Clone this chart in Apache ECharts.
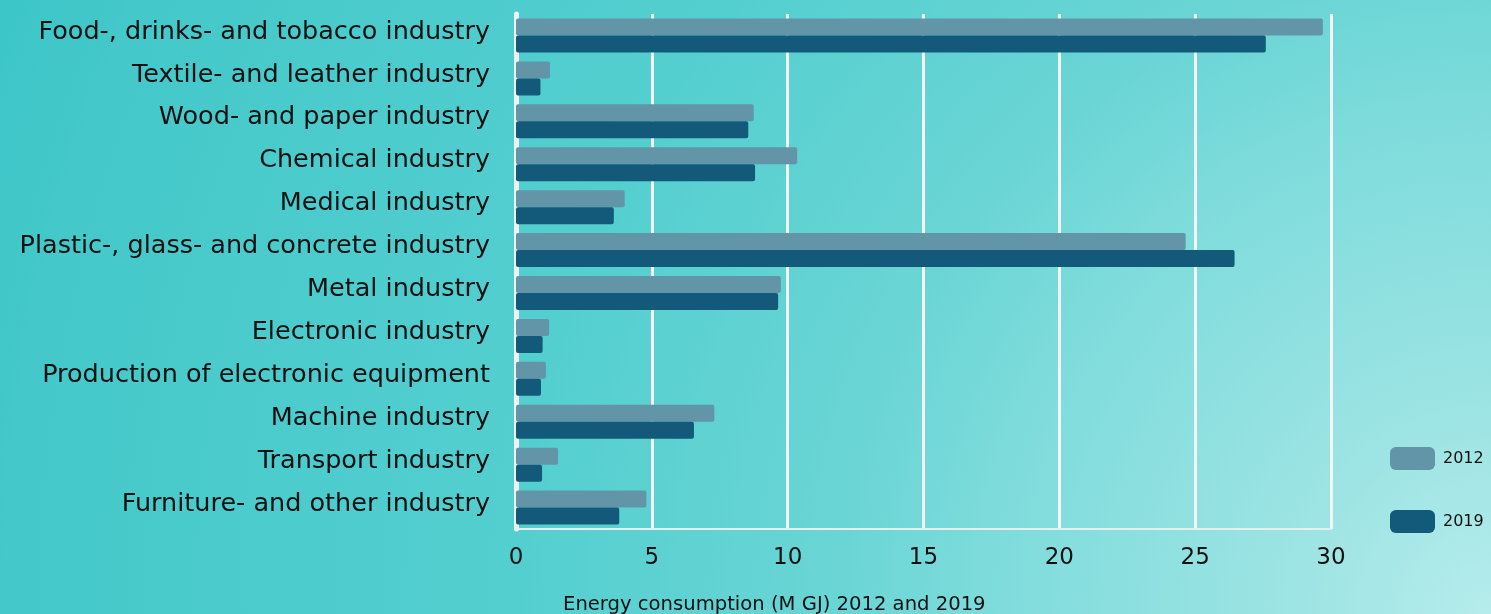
<!DOCTYPE html>
<html style="height: 100%">
<head>
    <meta charset="utf-8">
    <script type="text/javascript" src="https://cdn.jsdelivr.net/npm/echarts@6/dist/echarts.min.js"></script>
</head>
<body style="height: 100%; margin: 0">
<div id="container" style="width: 1491px; height: 614px"></div>
<script type="text/javascript">
    // industries, top to bottom
    var categories = [
        'Food-, drinks- and tobacco industry',
        'Textile- and leather industry',
        'Wood- and paper industry',
        'Chemical industry',
        'Medical industry',
        'Plastic-, glass- and concrete industry',
        'Metal industry',
        'Electronic industry',
        'Production of electronic equipment',
        'Machine industry',
        'Transport industry',
        'Furniture- and other industry'
    ];
    var values2012 = [29.7, 1.25, 8.75, 10.35, 4.0, 24.65, 9.75, 1.22, 1.1, 7.3, 1.55, 4.8];
    var values2019 = [27.6, 0.9, 8.55, 8.8, 3.6, 26.45, 9.65, 0.98, 0.92, 6.55, 0.96, 3.8];
    var xTicks = [0, 5, 10, 15, 20, 25, 30];

    var dom = document.getElementById("container");
    var myChart = echarts.init(dom);
    var fontName = 'DejaVu Sans';

    var option = {
        // light corner bottom right, fading out to the upper left
        backgroundColor: {
            type: 'radial', x: 1491, y: 614, r: 1615, global: true,
            colorStops: [
                {offset: 0, color: '#b6ecec'},
                {offset: 0.12, color: '#9ee4e4'},
                {offset: 0.3, color: '#80dcdc'},
                {offset: 0.4, color: '#6bd5d5'},
                {offset: 0.6, color: '#54cfd0'},
                {offset: 0.92, color: '#44c8c9'},
                {offset: 1, color: '#3cc6c8'}
            ]
        },
        animation: false,
        title: {
            text: 'Energy consumption (M GJ) 2012 and 2019',
            left: 558,
            top: 590,
            textStyle: {fontFamily: fontName, fontSize: 19.6, fontWeight: 'normal', color: '#111'}
        },
        legend: {
            orient: 'vertical',
            left: 1385,
            top: 442,
            itemWidth: 45,
            itemHeight: 23,
            itemGap: 40,
            icon: 'roundRect',
            textStyle: {fontFamily: fontName, fontSize: 16, color: '#111', padding: [0, 0, 0, 3]},
            data: ['2012', '2019']
        },
        grid: {
            left: 516,
            right: 160,
            top: 14,
            bottom: 85,
            containLabel: false
        },
        xAxis: {
            type: 'value',
            min: xTicks[0],
            max: xTicks[xTicks.length - 1],
            interval: 5,
            axisLine: {show: true, lineStyle: {color: '#e6eeee', width: 2}},
            axisTick: {show: false},
            axisLabel: {fontFamily: fontName, fontSize: 23, color: '#111', margin: 18},
            splitLine: {show: true, lineStyle: {color: '#f4f6f6', width: 3}}
        },
        yAxis: {
            type: 'category',
            inverse: true,
            data: categories,
            offset: 4,
            axisLine: {show: true, lineStyle: {color: '#eef2f2', width: 5}},
            axisTick: {show: false},
            axisLabel: {
                fontFamily: fontName, fontSize: 25.5, color: '#111', margin: 22,
                verticalAlign: 'bottom', lineHeight: 7
            }
        },
        series: [
            {
                name: '2012',
                type: 'bar',
                data: values2012,
                barWidth: 17,
                barGap: '0%',
                itemStyle: {color: '#6295a7', borderRadius: 2}
            },
            {
                name: '2019',
                type: 'bar',
                data: values2019,
                barWidth: 17,
                itemStyle: {color: '#135a7a', borderRadius: 2}
            }
        ]
    };
    myChart.setOption(option, true);
</script>
</body>
</html>
